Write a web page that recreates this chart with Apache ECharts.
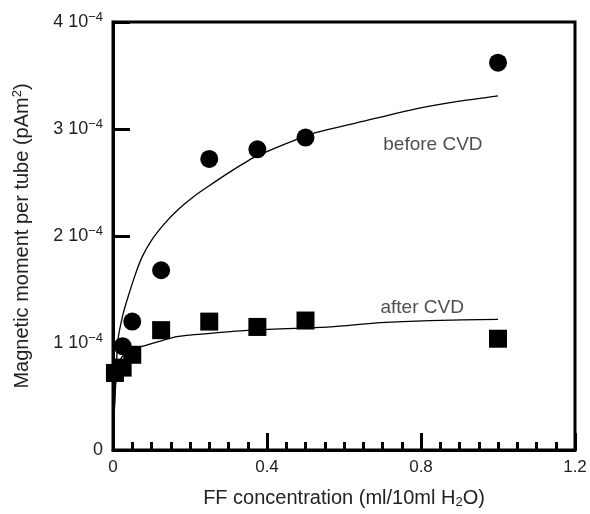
<!DOCTYPE html>
<html>
<head>
<meta charset="utf-8">
<script src="https://cdn.jsdelivr.net/npm/echarts@6/dist/echarts.min.js"></script>
<style>
  html, body { margin: 0; padding: 0; background: #fff; }
  #chart { width: 590px; height: 514px; }
</style>
</head>
<body>
<div id="chart"></div>
<script>
// values in units of 1e-4 pAm^2
const beforeX = [0.025, 0.05, 0.125, 0.25, 0.375, 0.5, 1.0];
const beforeY = [0.97, 1.20, 1.68, 2.72, 2.81, 2.92, 3.62];
const afterX = [0.005, 0.025, 0.05, 0.125, 0.25, 0.375, 0.5, 1.0];
const afterY = [0.72, 0.77, 0.89, 1.12, 1.20, 1.15, 1.21, 1.04];

// fitted curves
const fitBeforeX = [0.002, 0.006, 0.013, 0.026, 0.039, 0.057, 0.075, 0.1, 0.135, 0.17, 0.21, 0.25, 0.3, 0.364, 0.44, 0.52, 0.66, 0.79, 0.9, 1.0];
const fitBeforeY = [0.2, 0.6, 1.03, 1.27, 1.43, 1.63, 1.80, 1.96, 2.12, 2.25, 2.37, 2.47, 2.59, 2.73, 2.85, 2.96, 3.08, 3.19, 3.26, 3.31];
const fitAfterX = [0.003, 0.008, 0.02, 0.04, 0.078, 0.166, 0.252, 0.356, 0.564, 0.694, 0.823, 1.0];
const fitAfterY = [0.35, 0.65, 0.85, 0.93, 0.97, 1.06, 1.09, 1.12, 1.15, 1.19, 1.21, 1.22];

const xTicks = [0, 0.4, 0.8, 1.2];
const yTicks = [0, 1, 2, 3, 4];

const labels = [
  { name: 'before CVD', x: 0.831, y: 2.85 },
  { name: 'after CVD', x: 0.803, y: 1.33 }
];

const zip = (xs, ys) => xs.map((x, i) => [x, ys[i]]);
const font = 'Liberation Sans, Arial, Helvetica, sans-serif';
const ink = '#222';

const chart = echarts.init(document.getElementById('chart'));

const option = {
  animation: false,
  grid: {
    left: 113, right: 15, top: 22, bottom: 55,
    show: true, borderColor: '#000', borderWidth: 3
  },
  xAxis: {
    type: 'value',
    min: xTicks[0],
    max: xTicks[xTicks.length - 1],
    interval: 0.4,
    name: '{t|FF concentration (ml/10ml H}{s|2}{t|O)}',
    nameLocation: 'middle',
    nameGap: 38,
    nameTextStyle: {
      rich: {
        t: { fontSize: 20, color: ink, fontFamily: font },
        s: { fontSize: 13, color: ink, fontFamily: font, padding: [8, 0, 0, 0] }
      }
    },
    axisLine: { lineStyle: { color: '#000', width: 3 } },
    axisTick: { inside: true, length: 17, lineStyle: { color: '#000', width: 3 } },
    minorTick: { show: true, splitNumber: 8, length: 8, lineStyle: { color: '#000', width: 3 } },
    splitLine: { show: false },
    axisLabel: {
      margin: 9,
      fontSize: 17,
      color: ink,
      fontFamily: font,
      formatter: v => String(Math.round(v * 10) / 10)
    }
  },
  yAxis: {
    type: 'value',
    min: yTicks[0],
    max: yTicks[yTicks.length - 1],
    interval: 1,
    name: '{t|Magnetic moment per tube (pAm}{s|2}{t|)}',
    nameLocation: 'middle',
    nameRotate: 90,
    nameGap: 80,
    nameTextStyle: {
      rich: {
        t: { fontSize: 20, color: ink, fontFamily: font },
        s: { fontSize: 13, color: ink, fontFamily: font, padding: [0, 0, 9, 0] }
      }
    },
    axisLine: { lineStyle: { color: '#000', width: 3 } },
    axisTick: { inside: true, length: 17, lineStyle: { color: '#000', width: 3 } },
    splitLine: { show: false },
    axisLabel: {
      margin: 10,
      fontSize: 17,
      fontFamily: font,
      color: ink,
      formatter: v => v === 0 ? '{t|0}' : '{t|' + v + ' 10}{s|\u22124}',
      rich: {
        t: { fontSize: 18, color: ink, fontFamily: font },
        s: { fontSize: 13, color: ink, fontFamily: font, padding: [0, 0, 9, 0] }
      }
    }
  },
  series: [
    {
      type: 'line', data: zip(fitBeforeX, fitBeforeY), smooth: 0.2,
      showSymbol: false, lineStyle: { color: '#000', width: 1.3 }, z: 2
    },
    {
      type: 'line', data: zip(fitAfterX, fitAfterY), smooth: 0.2,
      showSymbol: false, lineStyle: { color: '#000', width: 1.3 }, z: 2
    },
    {
      type: 'scatter', data: zip(beforeX, beforeY), symbol: 'circle', symbolSize: 18,
      itemStyle: { color: '#000', opacity: 1 }, z: 3
    },
    {
      type: 'scatter', data: zip(afterX, afterY), symbol: 'rect', symbolSize: 18,
      itemStyle: { color: '#000', opacity: 1 }, z: 3
    },
    {
      type: 'scatter', symbolSize: 0, silent: true,
      data: labels.map(l => ({ name: l.name, value: [l.x, l.y] })),
      label: {
        show: true, position: 'inside', formatter: '{b}',
        fontSize: 19, color: ink, fontFamily: font
      }
    }
  ]
};

chart.setOption(option);
</script>
</body>
</html>
